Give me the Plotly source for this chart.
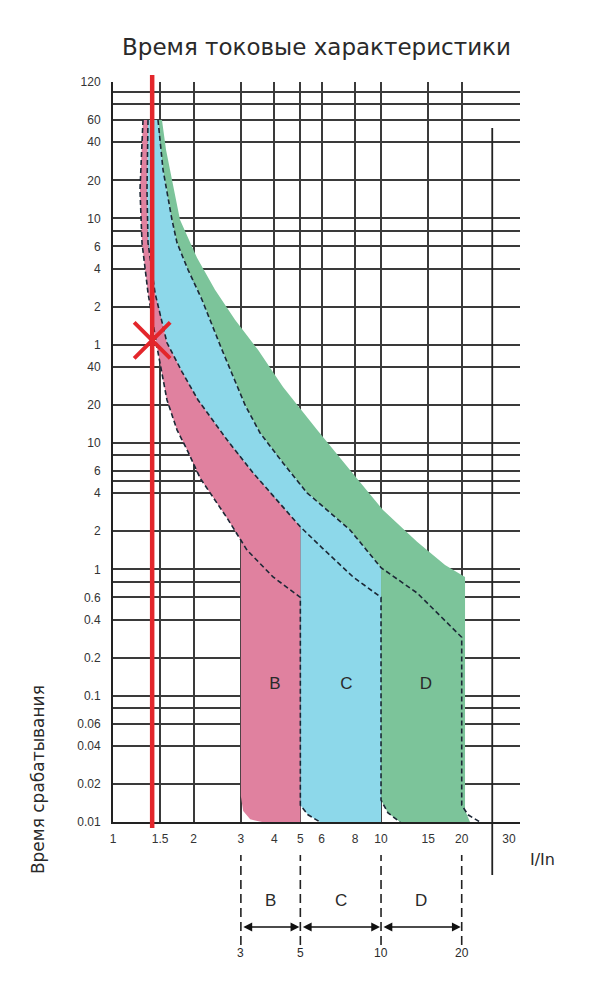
import numpy as np
import plotly.graph_objects as go

# ---------------- data ----------------
TITLE = "Время токовые характеристики"
Y_TITLE = "Время срабатывания"
X_UNIT = "I/In"

# x axis: multiples of rated current
x_tick_vals = [1, 1.5, 2, 3, 4, 5, 6, 8, 10, 15, 20, 30]
x_tick_text = ["1", "1.5", "2", "3", "4", "5", "6", "8", "10", "15", "20", "30"]
x_grid_vals = [1.5, 2, 3, 4, 5, 6, 8, 10, 15, 20]

# y axis: time in seconds (upper part labelled in minutes, lower part in seconds)
y_tick_vals = [7200, 3600, 2400, 1200, 600, 360, 240, 120, 60,
               40, 20, 10, 6, 4, 2, 1, 0.6, 0.4, 0.2, 0.1, 0.06, 0.04, 0.02, 0.01]
y_tick_text = ["120", "60", "40", "20", "10", "6", "4", "2", "1",
               "40", "20", "10", "6", "4", "2", "1", "0.6", "0.4", "0.2", "0.1",
               "0.06", "0.04", "0.02", "0.01"]
y_grid_vals = [7200, 6000, 4800, 3600, 2400, 1200, 600, 480, 360, 240, 120, 60,
               40, 20, 10, 8, 6, 5, 4, 2, 1, 0.8, 0.6, 0.4, 0.2, 0.1, 0.08, 0.06,
               0.04, 0.02]

# dashed characteristic curves (I/In, seconds)
b_curve_x = [1.294, 1.261, 1.283, 1.351, 1.459, 1.590, 1.733, 1.905, 2.112, 2.402,
             2.663, 3.162, 3.954, 5.0, 5.0, 5.34, 5.92]
b_curve_t = [3600, 1009, 384, 154, 57.7, 21.9, 12.7, 8.51, 5.29, 3.54,
             2.55, 1.42, 0.871, 0.6, 0.0136, 0.0114, 0.01]

c_curve_x = [1.351, 1.339, 1.351, 1.435, 1.590, 1.809, 2.076, 2.663, 3.330, 4.091,
             5.0, 6.025, 7.862, 10.0, 10.0, 10.62, 11.78]
c_curve_t = [3600, 1009, 384, 154, 62.1, 36.6, 21.9, 10.6, 5.80, 3.54,
             2.17, 1.48, 0.871, 0.6, 0.0149, 0.0118, 0.01]

d_curve_x = [1.472, 1.537, 1.660, 1.733, 1.905, 2.148, 2.551, 3.109, 3.537, 4.309,
             5.296, 6.288, 7.660, 10.0, 13.63, 20.0, 20.0, 21.12, 23.41]
d_curve_t = [3600, 1453, 584, 384, 235, 136, 54.6, 20.0, 12.0, 6.95,
             4.03, 2.95, 2.05, 1.03, 0.650, 0.29, 0.0136, 0.0114, 0.01]

# outer (solid) edge of the D zone
d_edge_x = [1.523, 1.577, 1.660, 1.778, 2.058, 2.402, 2.853, 3.475, 4.309, 5.771,
            7.660, 10.17, 13.63, 17.33, 20.58, 20.58, 21.48]
d_edge_t = [3600, 2094, 1211, 584, 292, 163, 94.4, 54.6, 27.8, 12.7,
            6.12, 2.95, 1.65, 1.08, 0.871, 0.0124, 0.01]

# rounded lower-left corner of the B zone
b_corner_x = [3.0, 3.06, 3.25, 3.6]
b_corner_t = [0.016, 0.0122, 0.0105, 0.01]

# magnetic trip ranges
classes = ["B", "C", "D"]
mag_low = [3, 5, 10]
mag_high = [5, 10, 20]
T_MIN = 0.01

# zone labels inside the chart
zone_label_x = [4.02, 7.43, 14.7]
zone_label_t = [0.122, 0.122, 0.122]

# marked point
mark_x = 1.4
mark_t = 65
separator_x = 26

# ---------------- helpers ----------------
def cut_at(xs, ts, xlim):
    ox, ot = [], []
    for i in range(len(xs)):
        if xs[i] >= xlim:
            if i > 0 and xs[i] > xlim:
                lx0, lx1 = np.log10(xs[i - 1]), np.log10(xs[i])
                lt0, lt1 = np.log10(ts[i - 1]), np.log10(ts[i])
                f = (np.log10(xlim) - lx0) / (lx1 - lx0)
                ox.append(xlim)
                ot.append(10 ** (lt0 + f * (lt1 - lt0)))
            else:
                ox.append(xs[i])
                ot.append(ts[i])
            break
        ox.append(xs[i])
        ot.append(ts[i])
    return ox, ot


def tail_from(xs, ts, xlim):
    for i in range(len(xs)):
        if xs[i] >= xlim:
            return list(xs[i:]), list(ts[i:])
    return [], []


# ---------------- figure ----------------
PINK = "#e0819f"
CYAN = "#8dd8ea"
GREEN = "#7cc49a"
DASH_COL = "#1c2836"
GRID = "#3a3a3a"
TEXT = "#2a2a2a"
RED = "#e3262b"
FONT = "Liberation Sans, Arial, sans-serif"
TFONT = "DejaVu Sans, Verdana, sans-serif"

fig = go.Figure()

# green (D) zone
lx, lt = cut_at(d_curve_x, d_curve_t, mag_low[2])
tx, tt = tail_from(c_curve_x, c_curve_t, mag_low[2])
gx = lx + tx + d_edge_x[::-1]
gt = lt + tt + d_edge_t[::-1]
fig.add_trace(go.Scatter(x=gx, y=gt, fill="toself", fillcolor=GREEN, mode="lines",
                         line=dict(width=0), hoverinfo="skip"))

# cyan (C) zone
lx, lt = cut_at(c_curve_x, c_curve_t, mag_low[1])
tx, tt = tail_from(b_curve_x, b_curve_t, mag_low[1])
rx, rt = cut_at(d_curve_x, d_curve_t, mag_high[1])
cx = lx + tx + [mag_high[1]] + rx[::-1]
ct = lt + tt + [T_MIN] + rt[::-1]
fig.add_trace(go.Scatter(x=cx, y=ct, fill="toself", fillcolor=CYAN, mode="lines",
                         line=dict(width=0), hoverinfo="skip"))

# pink (B) zone
lx, lt = cut_at(b_curve_x, b_curve_t, mag_low[0])
rx, rt = cut_at(c_curve_x, c_curve_t, mag_high[0])
px_ = lx + b_corner_x + [mag_high[0]] + rx[::-1]
pt_ = lt + b_corner_t + [T_MIN] + rt[::-1]
fig.add_trace(go.Scatter(x=px_, y=pt_, fill="toself", fillcolor=PINK, mode="lines",
                         line=dict(width=0), hoverinfo="skip"))

# dashed curves
for xs, ts in [(b_curve_x, b_curve_t), (c_curve_x, c_curve_t), (d_curve_x, d_curve_t)]:
    fig.add_trace(go.Scatter(x=xs, y=ts, mode="lines",
                             line=dict(color=DASH_COL, width=1.6, dash="5px,3px"),
                             hoverinfo="skip"))

# zone letters
fig.add_trace(go.Scatter(x=zone_label_x, y=zone_label_t, mode="text", text=classes,
                         textfont=dict(size=17, color=TEXT, family=FONT),
                         hoverinfo="skip"))

# red cross
fig.add_trace(go.Scatter(x=[mark_x], y=[mark_t], mode="markers", cliponaxis=False,
                         marker=dict(symbol="x-thin", size=36, color=RED,
                                     line=dict(color=RED, width=4)),
                         hoverinfo="skip"))

# ---- lower diagram (x2 / y2) ----
dx, dy = [], []
for v in sorted(set(mag_low + mag_high)):
    dx += [v, v, None]
    dy += [12, 102, None]
fig.add_trace(go.Scatter(x=dx, y=dy, xaxis="x2", yaxis="y2", mode="lines",
                         line=dict(color="#222", width=1.6, dash="9px,5px"),
                         hoverinfo="skip"))

annotations = []
for name, lo, hi in zip(classes, mag_low, mag_high):
    annotations.append(dict(x=np.log10(hi), y=30, ax=np.log10(lo), ay=30,
                            xref="x2", yref="y2", axref="x2", ayref="y2",
                            text="", showarrow=True, arrowhead=2, arrowside="end+start",
                            arrowsize=1.1, arrowwidth=1.6, arrowcolor="#111",
                            standoff=1, startstandoff=1))
    annotations.append(dict(x=np.log10(np.sqrt(lo * hi)), y=57, xref="x2", yref="y2",
                            text=name, showarrow=False,
                            font=dict(size=17, color=TEXT, family=FONT)))
for v in sorted(set(mag_low + mag_high)):
    annotations.append(dict(x=np.log10(v), y=4, xref="x2", yref="y2", text=str(v),
                            showarrow=False, font=dict(size=12, color=TEXT, family=FONT)))

annotations.append(dict(x=-0.184, y=0.2023, xref="paper", yref="paper", text=Y_TITLE,
                        xanchor="center", yanchor="middle",
                        textangle=-90, showarrow=False,
                        font=dict(size=17, color=TEXT, family=TFONT)))
annotations.append(dict(x=1.0565, y=0.1109, xref="paper", yref="paper", text=X_UNIT,
                        xanchor="center", yanchor="middle",
                        showarrow=False, font=dict(size=16, color=TEXT, family=TFONT)))

shapes = [
    dict(type="line", xref="x", yref="paper", x0=mark_x, x1=mark_x, y0=0.1474, y1=1.008,
         line=dict(color=RED, width=4.5)),
    dict(type="line", xref="x", yref="paper", x0=separator_x, x1=separator_x,
         y0=0.0937, y1=0.9474, line=dict(color="#222", width=1.8)),
]

# page body has an 8px margin: figure is 8px smaller so the plot lands in place
W, H = 592, 979
xr = [0, np.log10(33)]
fig.update_layout(
    width=W, height=H,
    margin=dict(l=105, r=80, t=74, b=30),
    paper_bgcolor="white", plot_bgcolor="white",
    showlegend=False,
    title=dict(text=TITLE, x=0.5, xref="paper", xanchor="center",
               y=1 - 39 / H, yref="container", yanchor="middle",
               font=dict(size=23, color=TEXT, family=TFONT)),
    xaxis=dict(type="log", range=xr, domain=[0, 1], anchor="y",
               tickmode="array", tickvals=x_tick_vals, ticktext=x_tick_text,
               showgrid=False, zeroline=False,
               minor=dict(tickmode="array", tickvals=x_grid_vals, showgrid=True,
                          gridcolor=GRID, gridwidth=1.5, ticks=""),
               showline=True, linecolor="#222", linewidth=2,
               ticks="outside", ticklen=5, tickcolor="rgba(0,0,0,0)",
               tickfont=dict(size=12, color="#333", family=FONT)),
    yaxis=dict(type="log", range=[-2, np.log10(7200)], domain=[0.15429, 1], anchor="x",
               tickmode="array", tickvals=y_tick_vals, ticktext=y_tick_text,
               showgrid=False, zeroline=False,
               minor=dict(tickmode="array", tickvals=y_grid_vals, showgrid=True,
                          gridcolor=GRID, gridwidth=1.5, ticks=""),
               showline=True, linecolor="#222", linewidth=2,
               ticks="outside", ticklen=8, tickcolor="rgba(0,0,0,0)",
               tickfont=dict(size=12, color="#333", family=FONT)),
    xaxis2=dict(type="log", range=xr, domain=[0, 1], anchor="y2", visible=False),
    yaxis2=dict(range=[0, 105], domain=[0, 0.12], anchor="x2", visible=False),
    annotations=annotations,
    shapes=shapes,
)

fig.write_html("out.html")
